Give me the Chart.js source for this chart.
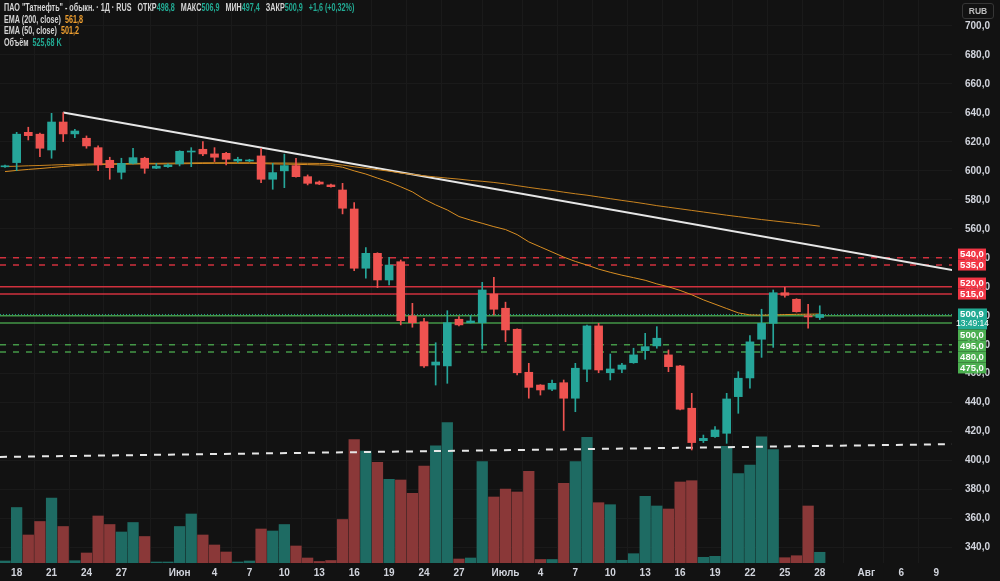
<!DOCTYPE html>
<html>
<head>
<meta charset="UTF-8">
<title>ПАО Татнефть - 1Д</title>
<script src="https://cdn.jsdelivr.net/npm/chart.js"></script>
<style>
    html, body { margin: 0; padding: 0; background: #121212; }
    #wrap { position: relative; width: 1000px; height: 581px; }
    #legend {
        position: absolute; left: 4px; top: 2px;
        font: 600 10px "Liberation Sans", Arial, sans-serif;
        color: #d4d4d4; line-height: 11.6px; white-space: nowrap;
        transform: scaleX(0.72); transform-origin: 0 0;
    }
    #legend .v { color: #22ab94; }
    #legend .o { color: #f0a030; }
    #rub {
        position: absolute; left: 962px; top: 3px; width: 32px; height: 16px;
        border: 1px solid #363636; border-radius: 3px; box-sizing: border-box;
        font: 600 8.5px "Liberation Sans", Arial, sans-serif; color: #bdbdbd;
        text-align: center; line-height: 14px;
    }
</style>
</head>
<body>
<div id="wrap">
    <canvas id="chart" width="1000" height="581"></canvas>
    <div id="legend">
        <div>ПАО "Татнефть" - обыкн. · 1Д · RUS&nbsp;&nbsp;&nbsp;ОТКР<span class="v">498,8</span>&nbsp;&nbsp;&nbsp;МАКС<span class="v">506,9</span>&nbsp;&nbsp;&nbsp;МИН<span class="v">497,4</span>&nbsp;&nbsp;&nbsp;ЗАКР<span class="v">500,9</span>&nbsp;&nbsp;&nbsp;<span class="v">+1,6 (+0,32%)</span></div>
        <div>EMA (200, close)&nbsp;&nbsp;<span class="o">561,8</span></div>
        <div>EMA (50, close)&nbsp;&nbsp;<span class="o">501,2</span></div>
        <div>Объём&nbsp;&nbsp;<span class="v">525,68 K</span></div>
    </div>
    <div id="rub">RUB</div>
</div>
<script>
    // daily bars, index 0 = 17 May
    const opens  = [602.8,605.7,626.6,625.3,614.4,633.7,625.5,622.5,616.0,607.3,599.0,605.2,608.7,601.8,602.9,604.8,613.0,614.9,611.7,612.1,
                    606.8,606.8,610.3,594.2,600.0,603.6,596.0,592.3,590.3,586.8,573.7,532.8,543.1,524.7,537.3,499.9,495.9,466.0,465.4,497.6,
                    495.2,495.2,515.0,505.2,490.7,461.0,452.2,449.3,453.8,443.1,463.1,493.0,460.7,463.1,467.6,475.9,479.2,473.0,465.4,436.2,
                    413.8,416.6,418.9,444.2,457.1,483.8,494.8,515.9,511.4,500.0,498.8];
    const highs  = [604.0,626.6,630.1,626.0,639.7,640.2,628.7,624.1,617.2,609.4,608.7,615.6,609.4,605.2,604.8,613.9,616.0,620.2,616.0,612.8,
                    609.4,608.0,615.6,605.2,611.5,608.7,597.2,593.0,590.8,591.4,578.1,547.0,543.5,540.3,538.5,508.6,498.3,481.4,503.5,499.4,
                    500.1,523.1,526.6,509.4,491.0,467.2,452.5,455.7,455.7,467.2,493.5,494.8,473.6,467.2,477.6,487.9,492.5,476.4,465.8,446.5,
                    417.7,423.5,446.5,461.4,486.3,504.5,517.8,519.7,511.8,507.9,506.9];
    const lows   = [602.3,600.1,621.3,609.8,608.7,620.2,622.9,615.6,600.1,594.2,594.4,604.8,598.3,601.5,602.3,603.4,602.9,610.5,606.4,604.1,
                    605.7,606.4,591.9,587.3,588.4,595.6,590.3,590.5,588.8,570.3,531.1,525.9,519.4,521.3,493.7,492.1,464.4,452.2,453.4,493.0,
                    495.0,477.1,500.6,482.1,459.1,443.1,445.3,448.3,420.9,433.8,454.5,460.7,455.7,460.7,467.2,470.0,477.6,461.4,435.0,407.4,
                    412.5,416.1,412.0,432.7,450.0,471.3,478.2,512.8,502.5,491.4,497.4];
    const closes = [603.5,625.3,624.3,615.6,633.7,625.5,627.5,617.2,604.1,602.2,605.2,609.1,601.8,603.2,604.1,613.5,613.6,611.7,609.4,608.0,
                    608.0,607.5,594.2,598.8,603.6,596.0,591.4,590.9,589.1,574.2,532.8,543.1,524.7,535.0,496.6,495.2,465.4,468.1,495.2,493.7,
                    496.4,517.8,504.5,490.2,460.7,450.6,448.8,453.4,443.1,463.8,493.0,462.6,463.3,466.0,473.0,478.7,484.5,464.9,435.5,412.5,
                    415.4,421.2,442.6,456.9,482.0,494.8,515.9,514.1,502.8,499.2,500.9];
    // volume, thousands
    const volumes = [98,2725,1375,2038,3192,1792,113,491,2308,1890,1522,1989,1301,49,49,1792,2406,1375,884,540,
                     49,98,1669,1571,1890,835,246,74,123,2136,6064,5499,4944,4110,4075,3422,4763,5759,6899,196,
                     246,4974,3241,3633,3486,4502,172,172,3913,4974,6172,2961,2863,133,457,3275,2799,2651,3977,4041,
                     280,329,5730,4385,4812,6201,5563,260,358,2799,526];
    const ema200 = [603.0,603.2,603.5,603.7,604.0,604.3,604.5,604.7,604.8,604.9,605.0,605.1,605.2,605.2,605.3,605.4,605.5,605.6,605.6,605.6,
                    605.6,605.6,605.5,605.4,605.4,605.3,605.2,605.1,604.9,604.0,602.8,601.8,600.8,599.8,598.5,597.6,596.6,595.8,595.0,594.3,
                    593.4,592.8,592.0,591.0,589.8,588.6,587.5,586.5,585.3,584.2,583.2,582.0,580.8,579.6,578.5,577.3,576.0,574.9,573.8,572.7,
                    571.6,570.5,569.4,568.4,567.4,566.4,565.5,564.6,563.7,562.8,561.8];
    const ema50  = [599.5,600.3,601.0,601.6,602.3,603.0,603.6,604.0,604.3,604.5,604.6,604.7,604.8,604.8,604.8,604.9,605.0,605.1,605.2,605.2,
                    605.2,605.2,605.0,604.8,604.7,604.5,604.3,604.1,603.8,602.5,600.0,597.8,595.0,592.3,589.0,585.5,580.5,576.5,573.0,568.5,
                    566.0,563.8,561.5,559.5,556.0,551.0,547.5,544.0,540.5,537.5,535.0,532.2,530.0,528.0,526.3,524.5,522.0,520.0,517.5,514.5,
                    511.0,508.0,505.0,502.0,500.6,500.4,500.6,500.8,501.0,501.1,501.2];

    const xTickIdx    = [1, 4, 7, 10, 15, 18, 21, 24, 27, 30, 33, 36, 39, 43, 46, 49, 52, 55, 58, 61, 64, 67, 70, 74, 77, 80];
    const xTickLabels = ['18','21','24','27','Июн','4','7','10','13','16','19','24','27','Июль','4','7','10','13','16','19','22','25','28','Авг','6','9'];
    const monthLabels = ['Июн', 'Июль', 'Авг'];
    const yTicks = [340, 360, 380, 400, 420, 440, 460, 480, 500, 520, 540, 560, 580, 600, 620, 640, 660, 680, 700];

    const redDashed    = [540, 535];
    const redSolid     = [520, 515];
    const greenSolid   = [500, 495];
    const greenDashed  = [480, 475];
    const lastPrice = 500.9;
    const countdown = '13:49:14';

    // drawn trendlines: [bar index], [price]
    const downTrendIdx = [5, 81.4];
    const downTrendPx  = [640.2, 531.6];
    const upTrendIdx   = [-0.43, 81.4];
    const upTrendPx    = [402.6, 411.4];

    const X_MIN = -0.43, X_MAX = 81.36;
    const UP = '#26a69a', DOWN = '#ef5350';
    const UP_VOL = '#1e6b63', DOWN_VOL = '#8a3838';
    const RED_LVL = 'rgba(242,54,69,0.85)', GREEN_LVL = 'rgba(76,175,80,0.85)';

    const isUp = opens.map((o, i) => closes[i] >= o);
    const idx = opens.map((o, i) => i);

    function level(v, color, dash, width) {
        return {
            type: 'line', data: [{x: X_MIN, y: v}, {x: X_MAX, y: v}],
            borderColor: color, borderWidth: width, borderDash: dash,
            pointRadius: 0, order: 6
        };
    }

    const datasets = [
        {
            type: 'bar', yAxisID: 'yv', order: 20, grouped: false,
            data: idx.map(i => ({x: i, y: volumes[i]})),
            backgroundColor: idx.map(i => isUp[i] ? UP_VOL : DOWN_VOL),
            barThickness: 10.6
        },
        ...redDashed.map(v => level(v, RED_LVL, [6, 7], 1.5)),
        ...redSolid.map(v => level(v, RED_LVL, [], 1.5)),
        ...greenSolid.map(v => level(v, GREEN_LVL, [], 1.5)),
        ...greenDashed.map(v => level(v, GREEN_LVL, [6, 7], 1.5)),
        level(lastPrice, 'rgba(38,166,154,0.9)', [1, 2], 1),
        {
            type: 'line', order: 5, pointRadius: 0, borderWidth: 2, borderColor: '#e6e6e6',
            data: downTrendIdx.map((v, i) => ({x: v, y: downTrendPx[i]}))
        },
        {
            type: 'line', order: 5, pointRadius: 0, borderWidth: 2, borderColor: '#e6e6e6', borderDash: [7, 7],
            data: upTrendIdx.map((v, i) => ({x: v, y: upTrendPx[i]}))
        },
        {
            type: 'line', order: 4, pointRadius: 0, borderWidth: 1, borderColor: '#c9831f',
            data: idx.map(i => ({x: i, y: ema200[i]}))
        },
        {
            type: 'line', order: 4, pointRadius: 0, borderWidth: 1, borderColor: '#d98e22',
            data: idx.map(i => ({x: i, y: ema50[i]}))
        },
        {
            // wicks
            type: 'bar', order: 2, grouped: false, barThickness: 1,
            data: idx.map(i => ({x: i, y: [lows[i], highs[i]]})),
            backgroundColor: idx.map(i => isUp[i] ? UP : DOWN)
        },
        {
            // bodies
            type: 'bar', order: 1, grouped: false, barThickness: 8, minBarLength: 1,
            data: idx.map(i => ({x: i, y: [opens[i], closes[i]]})),
            backgroundColor: idx.map(i => isUp[i] ? UP : DOWN)
        }
    ];

    const fmt = v => v.toFixed(1).replace('.', ',');

    const background = {
        id: 'background',
        beforeDraw(chart) {
            const ctx = chart.ctx;
            ctx.save();
            ctx.fillStyle = '#121212';
            ctx.fillRect(0, 0, chart.width, chart.height);
            ctx.restore();
        }
    };

    // price labels on the right axis, pushed apart so they do not overlap
    const priceBoxes = {
        id: 'priceBoxes',
        afterDraw(chart) {
            const ctx = chart.ctx, ys = chart.scales.y;
            const left = chart.chartArea.right + 6, w = 28, h = 11;
            ctx.save();
            ctx.font = '600 9.5px "Liberation Sans", Arial, sans-serif';
            ctx.textAlign = 'center';
            ctx.textBaseline = 'middle';

            function box(y, color, text) {
                ctx.fillStyle = color;
                ctx.fillRect(left, y - h / 2, w, h);
                ctx.fillStyle = '#ffffff';
                ctx.fillText(text, left + w / 2, y + 0.5);
            }

            const reds = redDashed.concat(redSolid).sort((a, b) => a - b);
            let prev = Infinity;
            reds.forEach(v => {
                const y = Math.min(ys.getPixelForValue(v), prev - h);
                box(y, '#f23645', fmt(v));
                prev = y;
            });

            const cy = ys.getPixelForValue(lastPrice);
            ctx.fillStyle = '#22ab94';
            ctx.fillRect(left, cy - 6, w + 1, 21);
            ctx.fillStyle = '#ffffff';
            ctx.fillText(fmt(lastPrice), left + w / 2, cy);
            ctx.font = '500 8.5px "Liberation Sans", Arial, sans-serif';
            ctx.fillText(countdown, left + w / 2 + 0.5, cy + 9.5);
            ctx.font = '600 9.5px "Liberation Sans", Arial, sans-serif';

            const greens = greenSolid.concat(greenDashed).sort((a, b) => b - a);
            prev = cy + 15 - h / 2;
            greens.forEach(v => {
                const y = Math.max(ys.getPixelForValue(v), prev + h);
                box(y, '#4caf50', fmt(v));
                prev = y;
            });
            ctx.restore();
        }
    };

    new Chart(document.getElementById('chart'), {
        type: 'bar',
        data: {datasets: datasets},
        options: {
            responsive: false,
            devicePixelRatio: 1,
            animation: false,
            layout: {padding: 0},
            plugins: {legend: {display: false}, tooltip: {enabled: false}},
            scales: {
                x: {
                    type: 'linear', min: X_MIN, max: X_MAX, offset: false,
                    afterFit: s => { s.height = 18; s.paddingLeft = 0; s.paddingRight = 0; },
                    afterBuildTicks: s => { s.ticks = xTickIdx.map(v => ({value: v})); },
                    border: {display: false},
                    grid: {color: '#1a1a1a', drawTicks: false},
                    ticks: {
                        autoSkip: false, maxRotation: 0, padding: 4, color: '#d1d4dc',
                        callback: v => xTickLabels[xTickIdx.indexOf(v)],
                        font: c => ({
                            family: '"Liberation Sans", Arial, sans-serif', size: 10,
                            weight: c.tick && monthLabels.includes(c.tick.label) ? 'bold' : '600'
                        })
                    }
                },
                y: {
                    position: 'right', min: 329.4, max: 717.9,
                    afterFit: s => { s.width = 48; s.paddingTop = 0; s.paddingBottom = 0; },
                    afterBuildTicks: s => { s.ticks = yTicks.map(v => ({value: v})); },
                    border: {display: false},
                    grid: {color: '#1a1a1a', drawTicks: false},
                    ticks: {
                        padding: 13, color: '#d1d4dc',
                        font: {family: '"Liberation Sans", Arial, sans-serif', size: 10, weight: '600'},
                        callback: v => fmt(v)
                    }
                },
                yv: {display: false, min: 0, max: 27643}
            }
        },
        plugins: [background, priceBoxes]
    });
</script>
</body>
</html>
